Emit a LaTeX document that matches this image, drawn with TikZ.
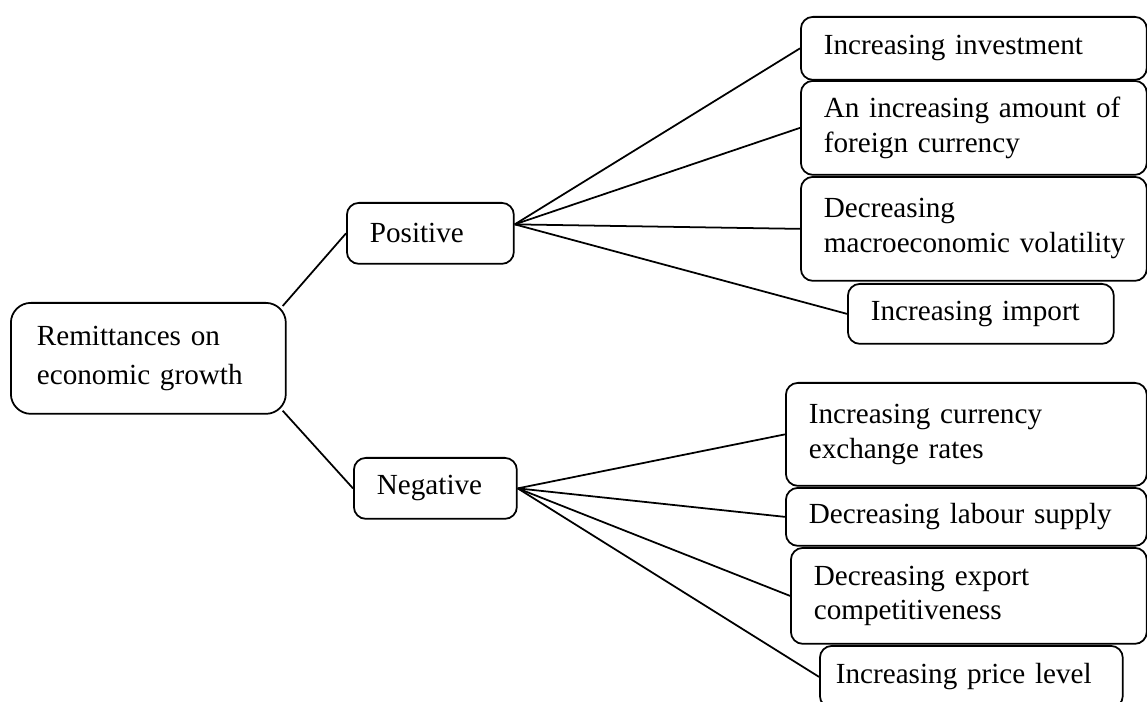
\documentclass[tikz,border=0pt]{standalone}
\usepackage{fontspec}
\setmainfont{Liberation Serif}
\usetikzlibrary{calc}

\begin{document}
\begin{tikzpicture}[
    x=0.02cm, y=-0.02cm,
    box/.style={draw, line width=1pt, rounded corners=0.24cm, anchor=north west,
        align=left, inner xsep=0.46cm, inner ysep=0pt,
        font=\fontsize{16.6}{19.8}\selectfont},
    link/.style={line width=1pt}
]
\useasboundingbox (0,0) rectangle (1147,702);

% root and the two branches
\node[box, rounded corners=0.4cm, inner xsep=0.52cm, text width=4.46cm, minimum height=2.22cm,
    font=\fontsize{16.6}{22.2}\selectfont] (root) at (10,302) {Remittances on\\economic growth};
\node[box, text width=2.42cm, minimum height=1.22cm] (pos) at (346,202) {Positive};
\node[box, text width=2.34cm, minimum height=1.22cm] (neg) at (353,457) {Negative};

% positive effects
\node[box, text width=6cm, minimum height=1.26cm] (p1) at (800,16) {Increasing investment};
\node[box, text width=6cm, minimum height=1.88cm] (p2) at (800,80) {An increasing amount of\\foreign currency};
\node[box, text width=6cm, minimum height=2.08cm] (p3) at (800,176) {Decreasing\\\mbox{macroeconomic volatility}};
\node[box, text width=4.4cm, minimum height=1.2cm] (p4) at (847,283) {Increasing import};

% negative effects
\node[box, text width=6.3cm, minimum height=2.06cm] (n1) at (785,382) {Increasing currency\\exchange rates};
\node[box, text width=6.3cm, minimum height=1.16cm] (n2) at (785,487) {\mbox{Decreasing labour supply}};
\node[box, text width=6.2cm, minimum height=1.92cm] (n3) at (790,547) {Decreasing export\\competitiveness};
\node[box, inner xsep=0.32cm, text width=5.42cm, minimum height=1.24cm] (n4) at (819,645) {Increasing price level};

% root links
\draw[link] ($(root.north east)+(-4,4)$) -- (pos.west);
\draw[link] ($(root.south east)+(-4,-4)$) -- (neg.west);

% fans
\coordinate (pfan) at ($(pos.east)+(0,-9)$);
\foreach \leaf in {p1,p2,p3,p4}{
    \draw[link] (pfan) -- (\leaf.west);
}
\foreach \leaf in {n1,n2,n3,n4}{
    \draw[link] (neg.east) -- (\leaf.west);
}

\end{tikzpicture}
\end{document}
